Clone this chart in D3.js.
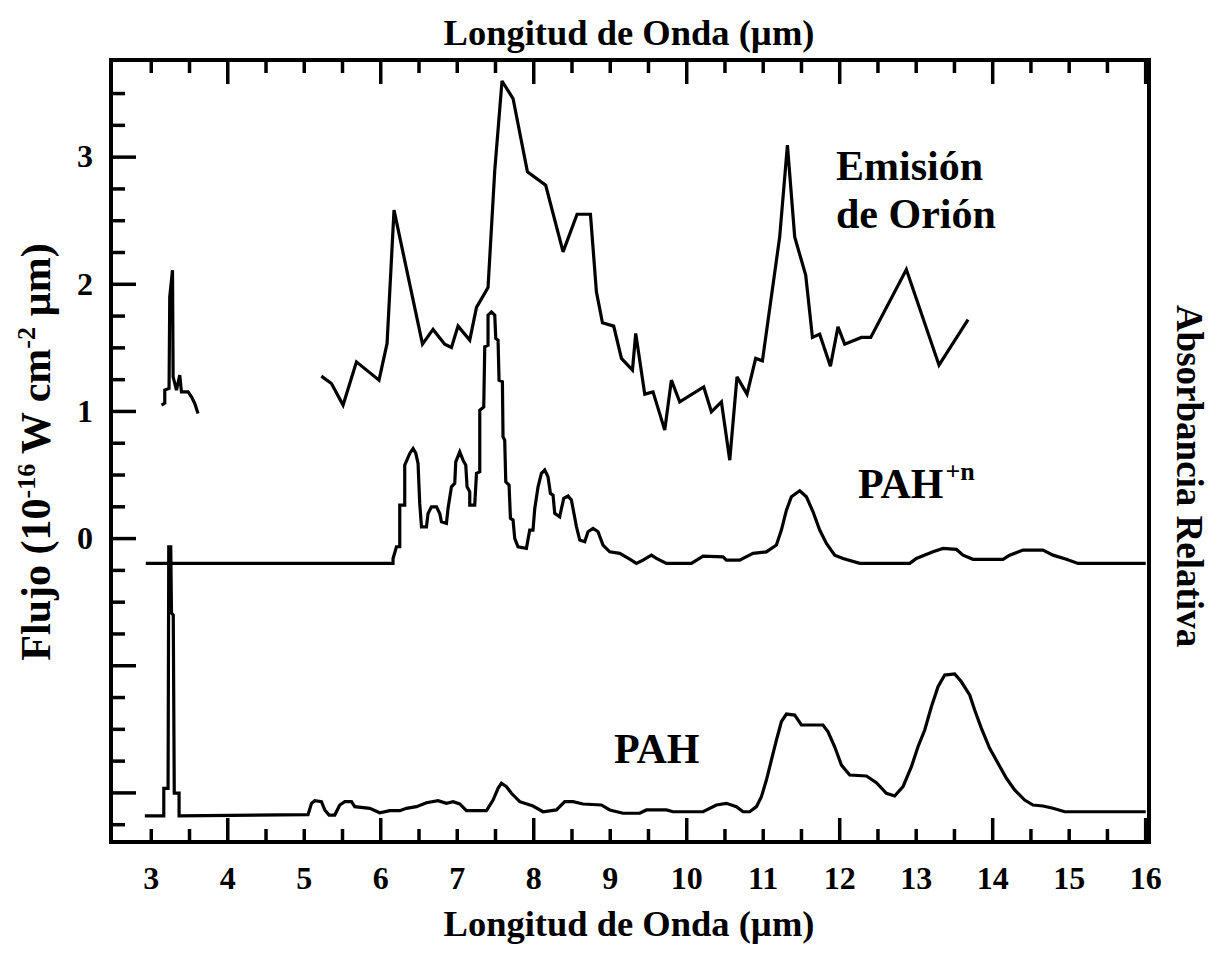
<!DOCTYPE html>
<html>
<head>
<meta charset="utf-8">
<script src="https://cdn.jsdelivr.net/npm/d3@7"></script>
<style>
  html, body { margin: 0; padding: 0; background: #fff; }
  svg { display: block; }
  text { font-family: "Liberation Serif", "Times New Roman", serif; font-weight: bold; fill: #000; }
</style>
</head>
<body>
<svg id="chart" width="1212" height="955"></svg>
<script>
// ---------------- DATA ----------------
// Orion emission, 3.3 µm feature
const orion33Wave = [3.140, 3.183, 3.183, 3.239, 3.248, 3.284, 3.292, 3.336, 3.379, 3.401, 3.488, 3.532, 3.575, 3.618];
const orion33Flux = [1.046, 1.061, 1.164, 1.177, 1.897, 2.107, 1.268, 1.164, 1.281, 1.150, 1.150, 1.111, 1.059, 0.980];

// Orion emission, 5-14 µm
const orionWave = [5.23, 5.362, 5.514, 5.689, 5.984, 6.089, 6.180, 6.552, 6.690, 6.843, 6.931, 7.017, 7.170, 7.258, 7.409,
  7.497, 7.592, 7.736, 7.924, 8.163, 8.390, 8.573, 8.748, 8.826, 8.905, 9.052, 9.153, 9.297, 9.340, 9.458, 9.566,
  9.719, 9.806, 9.915, 10.229, 10.329, 10.460, 10.569, 10.664, 10.795, 10.908, 10.996, 11.222, 11.323, 11.418,
  11.562, 11.650, 11.745, 11.885, 11.984, 12.072, 12.290, 12.412, 12.878, 13.305, 13.684];
const orionFlux = [1.274, 1.216, 1.046, 1.386, 1.242, 1.531, 2.579, 1.525, 1.641, 1.525, 1.499, 1.667, 1.557, 1.814, 1.971,
  2.893, 3.595, 3.457, 2.880, 2.775, 2.251, 2.547, 2.547, 1.936, 1.693, 1.667, 1.413, 1.321, 1.609, 1.132, 1.150,
  0.849, 1.242, 1.072, 1.189, 0.993, 1.072, 0.613, 1.268, 1.132, 1.413, 1.394, 2.369, 3.090, 2.369,
  2.068, 1.578, 1.604, 1.352, 1.661, 1.525, 1.578, 1.578, 2.112, 1.360, 1.719];

// Ionised PAH (PAH+n) relative absorbance, plotted in frame units
const pahIonWave = [2.935, 6.167, 6.167, 6.212, 6.255, 6.255, 6.320, 6.320, 6.386, 6.429, 6.464, 6.494, 6.516, 6.539,
  6.604, 6.625, 6.669, 6.735, 6.778, 6.800, 6.865, 6.886, 6.931, 6.974, 6.987, 7.039, 7.082, 7.118, 7.135, 7.170,
  7.170, 7.235, 7.258, 7.301, 7.301, 7.353, 7.366, 7.409, 7.409, 7.454, 7.497, 7.510, 7.540, 7.553, 7.597, 7.605,
  7.627, 7.641, 7.684, 7.702, 7.736, 7.758, 7.801, 7.911, 7.954, 7.997, 8.020, 8.063, 8.107, 8.150, 8.193, 8.225,
  8.259, 8.281, 8.346, 8.369, 8.399, 8.455, 8.499, 8.520, 8.565, 8.608, 8.673, 8.716, 8.782, 8.847, 8.912, 9.000,
  9.131, 9.261, 9.349, 9.435, 9.545, 9.610, 9.741, 10.068, 10.220, 10.481, 10.525, 10.699, 10.873, 11.048, 11.179,
  11.244, 11.310, 11.375, 11.484, 11.571, 11.658, 11.745, 11.833, 11.941, 12.050, 12.268, 12.922, 13.009, 13.226,
  13.357, 13.532, 13.619, 13.749, 14.141, 14.229, 14.403, 14.664, 14.795, 14.970, 15.122, 16.007];
const pahIonAbs = [-0.199, -0.199, -0.160, -0.068, -0.068, 0.259, 0.259, 0.574, 0.666, 0.705, 0.668, 0.587, 0.273, 0.089,
  0.089, 0.194, 0.246, 0.246, 0.194, 0.128, 0.116, 0.233, 0.403, 0.430, 0.600, 0.678, 0.613, 0.574, 0.403, 0.364,
  0.259, 0.259, 0.509, 0.521, 1.006, 1.032, 1.504, 1.517, 1.753, 1.779, 1.753, 1.570, 1.557, 1.242, 1.229, 0.796,
  0.770, 0.443, 0.417, 0.155, 0.142, -0.002, -0.068, -0.081, 0.063, 0.063, 0.233, 0.403, 0.509, 0.535, 0.482, 0.351,
  0.338, 0.194, 0.167, 0.233, 0.312, 0.330, 0.299, 0.233, 0.089, -0.016, -0.029, 0.050, 0.076, 0.050, -0.055, -0.108,
  -0.120, -0.165, -0.199, -0.173, -0.134, -0.160, -0.199, -0.199, -0.142, -0.147, -0.173, -0.173, -0.120, -0.108, -0.055,
  0.063, 0.220, 0.325, 0.372, 0.325, 0.207, 0.063, -0.042, -0.134, -0.160, -0.199, -0.199, -0.160, -0.108,
  -0.081, -0.089, -0.134, -0.167, -0.167, -0.134, -0.094, -0.094, -0.134, -0.167, -0.199, -0.199];

// Neutral PAH relative absorbance, plotted in frame units
const pahWave = [2.922, 3.170, 3.170, 3.226, 3.235, 3.261, 3.271, 3.294, 3.307, 3.370, 3.370, 5.056, 5.101, 5.144,
  5.231, 5.275, 5.331, 5.405, 5.471, 5.536, 5.624, 5.667, 5.863, 5.993, 6.124, 6.255, 6.342, 6.473, 6.604, 6.756,
  6.865, 6.952, 7.039, 7.127, 7.388, 7.475, 7.540, 7.584, 7.650, 7.715, 7.824, 7.997, 8.128, 8.303, 8.412, 8.520,
  8.651, 8.891, 9.000, 9.174, 9.392, 9.480, 9.741, 9.827, 10.220, 10.395, 10.525, 10.656, 10.743, 10.830, 10.918,
  10.983, 11.048, 11.114, 11.179, 11.244, 11.310, 11.418, 11.506, 11.788, 11.854, 11.941, 12.029, 12.137, 12.356,
  12.486, 12.617, 12.725, 12.834, 12.944, 13.030, 13.118, 13.205, 13.292, 13.379, 13.510, 13.597, 13.706, 13.771,
  13.859, 13.967, 14.076, 14.186, 14.294, 14.425, 14.533, 14.664, 14.795, 14.948, 16.007];
const pahAbs = [-2.185, -2.185, -1.968, -1.968, -0.068, -0.068, -0.590, -0.605, -2.005, -2.005, -2.185, -2.175, -2.086, -2.065,
  -2.073, -2.138, -2.178, -2.178, -2.099, -2.073, -2.073, -2.112, -2.125, -2.160, -2.144, -2.144, -2.125, -2.112, -2.081, -2.065,
  -2.086, -2.073, -2.091, -2.144, -2.144, -2.060, -1.968, -1.928, -1.955, -2.007, -2.073, -2.107, -2.152, -2.138, -2.073, -2.073,
  -2.091, -2.099, -2.138, -2.164, -2.164, -2.138, -2.138, -2.152, -2.152, -2.099, -2.086, -2.112, -2.152, -2.152, -2.112,
  -2.034, -1.903, -1.745, -1.588, -1.444, -1.384, -1.392, -1.470, -1.470, -1.523, -1.641, -1.785, -1.863, -1.871,
  -1.924, -2.007, -2.028, -1.955, -1.798, -1.641, -1.509, -1.326, -1.169, -1.077, -1.069, -1.130, -1.234, -1.352,
  -1.496, -1.653, -1.771, -1.889, -1.981, -2.060, -2.099, -2.107, -2.125, -2.152, -2.152];

// Ticks
const xLabelTicks = [3, 4, 5, 6, 7, 8, 9, 10, 11, 12, 13, 14, 15, 16];
const xMajorTicks = [4, 6, 8, 10, 12, 14, 16];
const xMinorTicks = [3, 3.5, 4.5, 5, 5.5, 6.5, 7, 7.5, 8.5, 9, 9.5, 10.5, 11, 11.5, 12.5, 13, 13.5, 14.5, 15, 15.5];
const yLabelTicks = [0, 1, 2, 3];
const yMajorTicks = [-2, -1, 0, 1, 2, 3];
const yMinorTicks = [-2.25, -1.75, -1.5, -1.25, -0.75, -0.5, -0.25, 0.25, 0.5, 0.75, 1.25, 1.5, 1.75, 2.25, 2.5, 2.75, 3.25, 3.5];

// ---------------- CHART ----------------
const svg = d3.select("#chart");
const L = 111, R = 1149, T = 60, B = 842;
const x = d3.scaleLinear().domain([2.48, 16.05]).range([L, R]);
const y = d3.scaleLinear().domain([-2.39, 3.76]).range([B, T]);

const zip = (a, b) => a.map((v, i) => [v, b[i]]);
const line = d3.line().x(d => x(d[0])).y(d => y(d[1]));

const curves = svg.append("g").attr("fill", "none").attr("stroke", "#000")
  .attr("stroke-width", 3.2).attr("stroke-linejoin", "miter").attr("stroke-miterlimit", 3);
curves.append("path").attr("d", line(zip(orion33Wave, orion33Flux)));
curves.append("path").attr("d", line(zip(orionWave, orionFlux)));
curves.append("path").attr("d", line(zip(pahIonWave, pahIonAbs)));
curves.append("path").attr("d", line(zip(pahWave, pahAbs)));

// Axes (inward ticks)
function styleAxis(g) {
  g.select(".domain").remove();
  g.selectAll(".tick line").attr("stroke", "#000").attr("stroke-width", 3.5);
}
svg.append("g").attr("transform", `translate(0,${B})`)
  .call(d3.axisBottom(x).tickValues(xMajorTicks).tickSize(-24).tickFormat("")).call(styleAxis);
svg.append("g").attr("transform", `translate(0,${B})`)
  .call(d3.axisBottom(x).tickValues(xMinorTicks).tickSize(-13).tickFormat("")).call(styleAxis);
svg.append("g").attr("transform", `translate(0,${T})`)
  .call(d3.axisTop(x).tickValues(xMajorTicks).tickSize(-24).tickFormat("")).call(styleAxis);
svg.append("g").attr("transform", `translate(0,${T})`)
  .call(d3.axisTop(x).tickValues(xMinorTicks).tickSize(-13).tickFormat("")).call(styleAxis);
svg.append("g").attr("transform", `translate(${L},0)`)
  .call(d3.axisLeft(y).tickValues(yMajorTicks).tickSize(-25).tickFormat("")).call(styleAxis);
svg.append("g").attr("transform", `translate(${L},0)`)
  .call(d3.axisLeft(y).tickValues(yMinorTicks).tickSize(-14).tickFormat("")).call(styleAxis);

// Tick labels
const xl = svg.append("g").attr("transform", `translate(0,${B})`)
  .call(d3.axisBottom(x).tickValues(xLabelTicks).tickSize(0).tickPadding(24).tickFormat(d3.format("d")));
xl.select(".domain").remove();
xl.selectAll("text").style("font-size", "32px").style("font-family", "Liberation Serif").style("font-weight", "bold").attr("fill", "#000");

const yl = svg.append("g").attr("transform", `translate(${L},0)`)
  .call(d3.axisLeft(y).tickValues(yLabelTicks).tickSize(0).tickPadding(18).tickFormat(d3.format("d")));
yl.select(".domain").remove();
yl.selectAll("text").style("font-size", "32px").style("font-family", "Liberation Serif").style("font-weight", "bold").attr("fill", "#000");

// Frame
svg.append("rect").attr("x", L).attr("y", T).attr("width", R - L).attr("height", B - T)
  .attr("fill", "none").attr("stroke", "#000").attr("stroke-width", 4);

// Titles
svg.append("text").attr("x", 629).attr("y", 45).attr("text-anchor", "middle")
  .style("font-size", "36.5px").text("Longitud de Onda (µm)");
svg.append("text").attr("x", 629).attr("y", 936).attr("text-anchor", "middle")
  .style("font-size", "36.5px").text("Longitud de Onda (µm)");

const yt = svg.append("text").attr("transform", "translate(50,452) rotate(-90)")
  .attr("text-anchor", "middle").style("font-size", "42px");
yt.append("tspan").text("Flujo (10");
yt.append("tspan").attr("dy", -15).style("font-size", "26px").text("-16");
yt.append("tspan").attr("dy", 15).text(" W cm");
yt.append("tspan").attr("dy", -15).style("font-size", "26px").text("-2");
yt.append("tspan").attr("dy", 15).text(" µm)");

svg.append("text").attr("transform", "translate(1177,476) rotate(90)")
  .attr("text-anchor", "middle").style("font-size", "37px").text("Absorbancia Relativa");

// Annotations
svg.append("text").attr("x", 836).attr("y", 180).style("font-size", "42px").text("Emisión");
svg.append("text").attr("x", 836).attr("y", 228).style("font-size", "42px").text("de Orión");
const pi = svg.append("text").attr("x", 858).attr("y", 498).style("font-size", "42px");
pi.append("tspan").text("PAH");
pi.append("tspan").attr("dy", -18).attr("dx", 2).style("font-size", "26px").text("+n");
svg.append("text").attr("x", 614).attr("y", 763).style("font-size", "42px").text("PAH");
</script>
</body>
</html>
